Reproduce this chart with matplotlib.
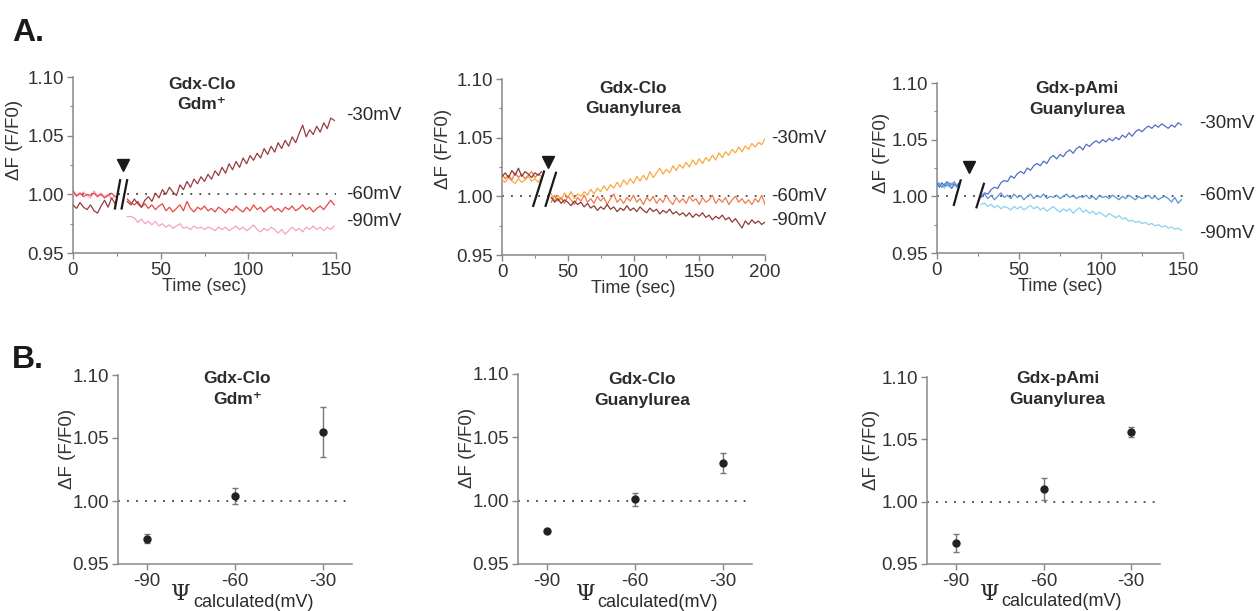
import numpy as np
import matplotlib
matplotlib.use("Agg")
import matplotlib.pyplot as plt
from matplotlib.ticker import MultipleLocator

plt.rcParams['font.family'] = ['Liberation Sans', 'DejaVu Sans']
plt.rcParams['axes.unicode_minus'] = False
plt.rcParams['text.color'] = '#333333'
plt.rcParams['axes.labelcolor'] = '#333333'
plt.rcParams['xtick.color'] = '#888888'
plt.rcParams['ytick.color'] = '#888888'
plt.rcParams['xtick.labelcolor'] = '#333333'
plt.rcParams['ytick.labelcolor'] = '#333333'

# ---------------- A: fluorescence time courses ----------------
# Gdx-Clo / Gdm+  (pre-break: t = 0..24 s every 2 s, post-break: t = 31..149 s every 2 s)
a1_pre_t0, a1_pre_dt = 0, 2
a1_post_t0, a1_post_dt = 31, 2
a1_pre_30 = [0.991, 0.988, 0.993, 0.989, 0.987, 0.991, 0.986, 0.984, 0.990, 0.995, 0.989, 0.997, 0.992]
a1_pre_60 = [1.003, 0.999, 1.001, 0.998, 1.000, 0.999, 1.001, 0.998, 1.000, 0.997, 0.999, 1.001, 0.998]
a1_pre_90 = [1.001, 0.998, 1.000, 1.002, 0.999, 0.997, 1.003, 0.999, 1.001, 0.998, 1.000, 0.996, 0.999]
a1_post_30 = [0.994, 0.991, 0.996, 0.992, 0.989, 0.995, 0.998, 0.994, 1.001, 0.997,
              1.004, 1.000, 1.006, 1.002, 0.999, 1.008, 1.004, 1.011, 1.006, 1.013,
              1.009, 1.015, 1.011, 1.017, 1.013, 1.020, 1.016, 1.023, 1.018, 1.026,
              1.021, 1.028, 1.023, 1.031, 1.026, 1.033, 1.029, 1.035, 1.031, 1.039,
              1.034, 1.041, 1.036, 1.044, 1.039, 1.046, 1.041, 1.049, 1.044, 1.052,
              1.059, 1.049, 1.055, 1.051, 1.058, 1.053, 1.061, 1.056, 1.065, 1.063]
a1_post_60 = [0.996, 0.993, 0.991, 0.994, 0.989, 0.992, 0.988, 0.991, 0.987, 0.990,
              0.992, 0.986, 0.989, 0.985, 0.988, 0.991, 0.986, 0.994, 0.988, 0.985,
              0.989, 0.987, 0.990, 0.986, 0.988, 0.985, 0.989, 0.987, 0.984, 0.988,
              0.986, 0.990, 0.987, 0.985, 0.989, 0.986, 0.991, 0.987, 0.989, 0.985,
              0.988, 0.990, 0.986, 0.988, 0.985, 0.989, 0.987, 0.990, 0.986, 0.988,
              0.991, 0.987, 0.989, 0.985, 0.988, 0.990, 0.987, 0.991, 0.995, 0.991]
a1_post_90 = [0.981, 0.981, 0.980, 0.976, 0.979, 0.975, 0.977, 0.974, 0.977, 0.973,
              0.975, 0.972, 0.974, 0.971, 0.973, 0.975, 0.971, 0.972, 0.970, 0.973,
              0.971, 0.972, 0.970, 0.972, 0.971, 0.969, 0.972, 0.970, 0.972, 0.969,
              0.971, 0.973, 0.970, 0.972, 0.969, 0.971, 0.974, 0.970, 0.968, 0.971,
              0.969, 0.972, 0.970, 0.967, 0.970, 0.966, 0.969, 0.972, 0.969, 0.971,
              0.968, 0.972, 0.970, 0.973, 0.970, 0.972, 0.969, 0.972, 0.970, 0.973]

# Gdx-Clo / Guanylurea  (pre: 0..30 s every 2.5 s, post: 37.5..200 s every 2.5 s)
a2_pre_t0, a2_pre_dt = 0, 2.5
a2_post_t0, a2_post_dt = 37.5, 2.5
a2_pre_30 = [1.014, 1.012, 1.016, 1.013, 1.011, 1.015, 1.012, 1.014, 1.017, 1.013, 1.015, 1.012, 1.016]
a2_pre_60 = [1.019, 1.015, 1.018, 1.014, 1.020, 1.016, 1.019, 1.015, 1.018, 1.021, 1.016, 1.019, 1.017]
a2_pre_90 = [1.017, 1.020, 1.016, 1.022, 1.018, 1.024, 1.017, 1.021, 1.019, 1.016, 1.020, 1.018, 1.021]
a2_post_30 = [1.002, 0.996, 1.001, 0.997, 1.003, 0.999, 1.004, 0.998, 1.002, 1.000,
              1.004, 1.001, 1.006, 1.002, 1.007, 1.004, 1.009, 1.005, 1.010, 1.007,
              1.012, 1.008, 1.014, 1.010, 1.015, 1.011, 1.017, 1.013, 1.018, 1.014,
              1.021, 1.016, 1.020, 1.024, 1.019, 1.023, 1.020, 1.026, 1.022, 1.027,
              1.024, 1.029, 1.025, 1.031, 1.027, 1.032, 1.028, 1.033, 1.030, 1.035,
              1.031, 1.037, 1.033, 1.038, 1.035, 1.040, 1.037, 1.042, 1.038, 1.043,
              1.040, 1.045, 1.042, 1.046, 1.044, 1.049]
a2_post_60 = [0.995, 1.001, 0.996, 0.999, 0.994, 1.000, 0.997, 0.993, 0.999, 0.996,
              1.001, 0.995, 0.998, 0.994, 1.000, 0.996, 0.999, 0.993, 0.998, 1.002,
              0.995, 0.998, 0.994, 0.999, 0.996, 1.001, 0.995, 0.998, 0.993, 0.999,
              0.996, 1.000, 0.994, 0.998, 0.995, 1.001, 0.996, 0.993, 0.999, 0.995,
              0.998, 0.994, 1.000, 0.996, 0.998, 0.993, 0.999, 0.995, 0.997, 1.001,
              0.994, 0.998, 0.995, 0.999, 0.993, 0.997, 1.000, 0.995, 0.998, 0.994,
              0.997, 0.993, 0.998, 0.995, 1.001, 0.993]
a2_post_90 = [0.999, 0.995, 0.998, 0.994, 0.997, 0.995, 0.992, 0.996, 0.993, 0.995,
              0.991, 0.994, 0.990, 0.992, 0.988, 0.991, 0.989, 0.993, 0.989, 0.991,
              0.987, 0.990, 0.988, 0.992, 0.988, 0.990, 0.987, 0.991, 0.988, 0.986,
              0.990, 0.987, 0.989, 0.985, 0.988, 0.986, 0.989, 0.985, 0.987, 0.984,
              0.986, 0.983, 0.986, 0.982, 0.985, 0.983, 0.986, 0.982, 0.984, 0.980,
              0.983, 0.981, 0.984, 0.980, 0.982, 0.978, 0.981, 0.977, 0.973, 0.979,
              0.976, 0.980, 0.977, 0.979, 0.976, 0.978]

# Gdx-pAmi / Guanylurea  (pre: 0..13.5 s every 1.5 s, post: 27..149 s every 2 s)
a3_pre_t0, a3_pre_dt = 0, 1.5
a3_post_t0, a3_post_dt = 27, 2
a3_pre_30 = [1.011, 1.008, 1.012, 1.009, 1.013, 1.010, 1.007, 1.011, 1.009, 1.012]
a3_pre_60 = [1.013, 1.010, 1.008, 1.011, 1.009, 1.012, 1.010, 1.013, 1.008, 1.010]
a3_pre_90 = [1.009, 1.012, 1.010, 1.007, 1.011, 1.008, 1.012, 1.009, 1.011, 1.008]
a3_post_30 = [1.000, 1.003, 1.002, 1.006, 1.008, 1.007, 1.012, 1.014, 1.013, 1.018,
              1.016, 1.020, 1.022, 1.020, 1.025, 1.023, 1.027, 1.029, 1.027, 1.031,
              1.029, 1.034, 1.036, 1.033, 1.037, 1.035, 1.039, 1.041, 1.038, 1.042,
              1.044, 1.041, 1.046, 1.044, 1.047, 1.049, 1.047, 1.050, 1.048, 1.051,
              1.049, 1.052, 1.050, 1.054, 1.052, 1.056, 1.053, 1.057, 1.059, 1.057,
              1.060, 1.062, 1.060, 1.063, 1.061, 1.064, 1.062, 1.060, 1.063, 1.061,
              1.065, 1.063]
a3_post_60 = [0.999, 1.002, 0.998, 1.001, 0.997, 1.000, 1.003, 0.999, 1.001, 0.998,
              1.002, 0.999, 1.001, 0.997, 1.000, 1.002, 0.998, 1.001, 0.999, 1.002,
              0.998, 1.000, 0.999, 1.001, 0.998, 1.000, 1.002, 0.999, 1.001, 0.998,
              1.000, 0.999, 1.001, 0.998, 1.000, 0.997, 1.001, 0.999, 1.000, 0.998,
              1.001, 0.999, 0.997, 1.000, 0.998, 1.001, 0.999, 0.997, 1.000, 0.998,
              0.999, 1.001, 0.998, 1.000, 0.997, 0.999, 1.000, 0.998, 0.995, 0.999,
              0.994, 0.997]
a3_post_90 = [0.993, 0.994, 0.991, 0.993, 0.990, 0.992, 0.989, 0.991, 0.990, 0.988,
              0.991, 0.989, 0.991, 0.988, 0.990, 0.992, 0.989, 0.991, 0.988, 0.990,
              0.987, 0.989, 0.991, 0.988, 0.986, 0.989, 0.987, 0.989, 0.985, 0.988,
              0.990, 0.986, 0.988, 0.985, 0.987, 0.984, 0.986, 0.984, 0.982, 0.985,
              0.983, 0.981, 0.983, 0.980, 0.981, 0.978, 0.979, 0.977, 0.978, 0.976,
              0.977, 0.975, 0.976, 0.974, 0.975, 0.973, 0.974, 0.972, 0.973, 0.971,
              0.972, 0.970]

# ---------------- B: steady-state response vs. membrane potential ----------------
potentials = [-90, -60, -30]
b1_mean = [0.970, 1.004, 1.055]
b1_err = [0.0035, 0.006, 0.020]
b2_mean = [0.976, 1.001, 1.030]
b2_err = [0.0008, 0.005, 0.008]
b3_mean = [0.967, 1.010, 1.056]
b3_err = [0.007, 0.009, 0.004]

titles = ['Gdx-Clo\nGdm\u207a', 'Gdx-Clo\nGuanylurea', 'Gdx-pAmi\nGuanylurea']
mv_labels = ['-30mV', '-60mV', '-90mV']

fig = plt.figure(figsize=(12.57, 6.11), dpi=100)


def px_axes(left, top, right, bottom):
    W, H = 1257, 611
    return fig.add_axes([left / W, 1 - bottom / H, (right - left) / W, (bottom - top) / H])


def style(ax):
    for s in ('top', 'right'):
        ax.spines[s].set_visible(False)
    for s in ('left', 'bottom'):
        ax.spines[s].set_color('#888888')
        ax.spines[s].set_linewidth(1.1)
    ax.tick_params(which='major', length=4, width=1, labelsize=13.5, pad=2.5)
    ax.tick_params(which='minor', length=2.5, width=0.8)
    ax.set_ylim(0.95, 1.10)
    ax.set_yticks([0.95, 1.00, 1.05, 1.10])
    ax.set_yticklabels(['0.95', '1.00', '1.05', '1.10'])


def trace(ax, t0, dt, vals, color):
    t = t0 + dt * np.arange(len(vals))
    ax.plot(t, vals, color=color, lw=0.9, zorder=3)


# A panels
a_specs = [
    dict(box=(73, 77, 336, 253), xmax=150, xticks=[0, 50, 100, 150], minor=25,
         pre=(a1_pre_t0, a1_pre_dt, [a1_pre_30, a1_pre_60, a1_pre_90]),
         post=(a1_post_t0, a1_post_dt, [a1_post_30, a1_post_60, a1_post_90]),
         colors=['#9a3b3e', '#ec4543', '#f4a3c6'], order=[2, 1, 0],
         slashes=[((23.8, 0.987), (27.0, 1.013)), ((27.6, 0.987), (31.0, 1.013))],
         arrow=(28.5, 1.025), title_xy=(0.49, 1.0),
         lab_x=156, lab_y=[1.067, 1.000, 0.977], ylab_y=0.64),
    dict(box=(502, 79, 765, 255), xmax=200, xticks=[0, 50, 100, 150, 200], minor=25,
         pre=(a2_pre_t0, a2_pre_dt, [a2_pre_30, a2_pre_60, a2_pre_90]),
         post=(a2_post_t0, a2_post_dt, [a2_post_30, a2_post_60, a2_post_90]),
         colors=['#f9a843', '#ee7b4c', '#8f3a37'], order=[0, 1, 2],
         slashes=[((23.5, 0.991), (32.2, 1.022)), ((32.9, 0.991), (41.3, 1.021))],
         arrow=(35.0, 1.0295), title_xy=(0.50, 0.99),
         lab_x=205, lab_y=[1.0494, 1.000, 0.979], ylab_y=0.60),
    dict(box=(937, 83, 1183, 253), xmax=150, xticks=[0, 50, 100, 150], minor=25,
         pre=(a3_pre_t0, a3_pre_dt, [a3_pre_30, a3_pre_60, a3_pre_90]),
         post=(a3_post_t0, a3_post_dt, [a3_post_30, a3_post_60, a3_post_90]),
         colors=['#4f6fc3', '#5b90d6', '#88d2f0'], order=[2, 0, 1],
         slashes=[((10.1, 0.9915), (14.6, 1.015)), ((23.9, 0.9894), (28.8, 1.012))],
         arrow=(19.3, 1.0255), title_xy=(0.57, 1.01),
         lab_x=160, lab_y=[1.064, 1.0006, 0.9675], ylab_y=0.59),
]

for i, sp in enumerate(a_specs):
    ax = px_axes(*sp['box'])
    style(ax)
    ax.set_xlim(0, sp['xmax'])
    ax.set_xticks(sp['xticks'])
    ax.xaxis.set_minor_locator(MultipleLocator(sp['minor']))
    ax.yaxis.set_minor_locator(MultipleLocator(0.025))
    ax.plot([0, sp['xmax']], [1.0, 1.0], color='#444444', lw=1.3,
            linestyle=(0, (1, 4)), zorder=1)
    for k in sp['order']:
        t0, dt, series = sp['pre']
        trace(ax, t0, dt, series[k], sp['colors'][k])
        t0, dt, series = sp['post']
        trace(ax, t0, dt, series[k], sp['colors'][k])
    for (x0, y0), (x1, y1) in sp['slashes']:
        ax.plot([x0, x1], [y0, y1], color='#1a1a1a', lw=1.6, zorder=4,
                solid_capstyle='butt')
    ax.plot([sp['arrow'][0]], [sp['arrow'][1]], marker='v', color='#1a1a1a',
            markersize=8, zorder=4)
    ax.text(*sp['title_xy'], titles[i], transform=ax.transAxes, ha='center',
            va='top', fontsize=12.5, fontweight='bold', linespacing=1.45, color='#2b2b2b')
    for lab, y in zip(mv_labels, sp['lab_y']):
        ax.text(sp['lab_x'], y, lab, ha='left', va='center', fontsize=13.5,
                color='#2b2b2b', clip_on=False)
    ax.set_xlabel('Time (sec)', fontsize=13, labelpad=-1)
    ax.set_ylabel('\u0394F (F/F0)', fontsize=13.5)
    ax.yaxis.set_label_coords(-0.19, sp['ylab_y'])

# B panels
b_specs = [
    dict(box=(118, 375, 352, 564), mean=b1_mean, err=b1_err, title_xy=(0.51, 1.02),
         psi_x=0.31, ylab_x=-0.18),
    dict(box=(518, 374, 752, 564), mean=b2_mean, err=b2_err, title_xy=(0.53, 1.01),
         psi_x=0.33, ylab_x=-0.18),
    dict(box=(927, 377, 1160, 564), mean=b3_mean, err=b3_err, title_xy=(0.56, 1.03),
         psi_x=0.31, ylab_x=-0.2),
]

for i, sp in enumerate(b_specs):
    ax = px_axes(*sp['box'])
    style(ax)
    ax.set_xlim(-100, -20)
    ax.set_xticks(potentials)
    ax.plot([-100, -20], [1.0, 1.0], color='#444444', lw=1.3,
            linestyle=(0, (1, 4)), zorder=1)
    ax.errorbar(potentials, sp['mean'], yerr=sp['err'], fmt='o', color='#222222',
                ecolor='#777777', elinewidth=1.0, capsize=2.5, capthick=1.0,
                markersize=5, zorder=3)
    ax.text(*sp['title_xy'], titles[i], transform=ax.transAxes, ha='center',
            va='top', fontsize=12.5, fontweight='bold', linespacing=1.45, color='#2b2b2b')
    ax.set_ylabel('\u0394F (F/F0)', fontsize=13.5)
    ax.yaxis.set_label_coords(sp['ylab_x'], 0.61)
    ax.text(sp['psi_x'], -0.19, '\u03a8', transform=ax.transAxes, ha='right',
            va='baseline', fontsize=16, family='DejaVu Serif', color='#2b2b2b')
    ax.text(sp['psi_x'] + 0.01, -0.225, 'calculated(mV)', transform=ax.transAxes,
            ha='left', va='baseline', fontsize=13, color='#2b2b2b')

fig.text(12 / 1257, 1 - 18 / 611, 'A.', fontsize=23, fontweight='bold', va='top',
         color='#1a1a1a')
fig.text(12 / 1257, 1 - 345 / 611, 'B.', fontsize=23, fontweight='bold', va='top',
         color='#1a1a1a')

fig.savefig('out.png', dpi=100, facecolor='white')
